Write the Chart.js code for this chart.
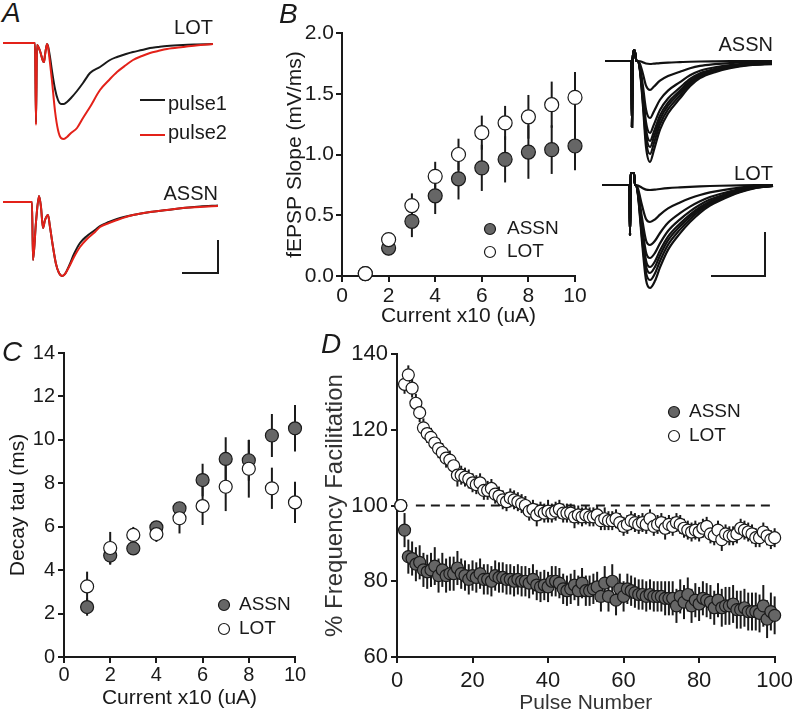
<!DOCTYPE html>
<html>
<head>
<meta charset="utf-8">
<script src="https://cdn.jsdelivr.net/npm/chart.js@4.4.1/dist/chart.umd.min.js"></script>
<style>
body{margin:0;background:#fff;}
#fig{position:relative;width:800px;height:714px;overflow:hidden;font-family:"Liberation Sans",Arial,sans-serif;color:#1a1a1a;}
canvas{position:absolute;}
.lbl{position:absolute;white-space:nowrap;line-height:1;font-size:20px;}
.panel{font-size:28px;font-style:italic;}
.swatch{position:absolute;height:2px;width:25px;}
</style>
</head>
<body>
<div id="fig">
  <canvas id="aLot" width="225" height="125" style="left:0;top:30px"></canvas>
  <canvas id="aAssn" width="225" height="110" style="left:0;top:180px"></canvas>
  <canvas id="bChart" width="330" height="315" style="left:270px;top:15px"></canvas>
  <canvas id="bAssn" width="190" height="150" style="left:595px;top:20px"></canvas>
  <canvas id="bLot" width="190" height="130" style="left:595px;top:165px"></canvas>
  <canvas id="cChart" width="320" height="379" style="left:0;top:335px"></canvas>
  <canvas id="dChart" width="480" height="379" style="left:320px;top:335px"></canvas>

  <div class="lbl panel" style="left:2px;top:-1px">A</div>
  <div class="lbl panel" style="left:279px;top:0px">B</div>
  <div class="lbl panel" style="left:2px;top:338px">C</div>
  <div class="lbl panel" style="left:321px;top:330px">D</div>

  <div class="lbl" style="right:587px;top:17px">LOT</div>
  <div class="lbl" style="right:582px;top:183px">ASSN</div>
  <div class="swatch" style="left:140px;top:99px;background:#1a1a1a"></div>
  <div class="lbl" style="left:168px;top:93px">pulse1</div>
  <div class="swatch" style="left:140px;top:134px;background:#e32119"></div>
  <div class="lbl" style="left:168px;top:122px">pulse2</div>

  <div class="lbl" style="right:27px;top:34px">ASSN</div>
  <div class="lbl" style="right:27px;top:163px">LOT</div>
</div>
<script>
const INK = "#1a1a1a";
const RED = "#e32119";
Chart.defaults.font.family = '"Liberation Sans", Arial, sans-serif';
Chart.defaults.color = INK;
Chart.defaults.animation = false;

// ---- B / C : stimulus series
const current = [1, 2, 3, 4, 5, 6, 7, 8, 9, 10];

// B: fEPSP slope (mV/ms)
const slopeAssn    = [0.02, 0.23, 0.45, 0.66, 0.80, 0.89, 0.96, 1.02, 1.04, 1.07];
const slopeAssnErr = [0, 0.06, 0.13, 0.15, 0.17, 0.19, 0.19, 0.22, 0.20, 0.20];
const slopeLot     = [0.02, 0.30, 0.58, 0.82, 1.00, 1.18, 1.26, 1.31, 1.41, 1.47];
const slopeLotErr  = [0, 0.03, 0.10, 0.12, 0.13, 0.14, 0.14, 0.18, 0.19, 0.21];

// C: decay tau (ms)
const tauAssn    = [2.30, 4.67, 5.00, 5.97, 6.85, 8.15, 9.12, 9.06, 10.20, 10.53];
const tauAssnErr = [0.40, 0.42, 0.15, 0.15, 0.20, 0.75, 1.00, 0.94, 0.99, 1.07];
const tauLot     = [3.25, 5.02, 5.62, 5.66, 6.39, 6.95, 7.84, 8.67, 7.77, 7.12];
const tauLotErr  = [0.68, 0.74, 0.37, 0.36, 0.70, 0.87, 1.12, 1.33, 0.95, 0.95];

// D: % frequency facilitation, pulses 1..100
const pulseNum = Array.from({length: 100}, (v, i) => i + 1);
const ffLot = [
  100, 132, 134.5, 131, 127, 124.5, 120.5, 119, 118, 116.5,
  115, 114, 112.5, 112, 110.5, 108, 108, 107.5, 107, 106,
  105.5, 106, 104, 104, 104.5, 103, 102.5, 101.5, 101, 102,
  101.5, 101, 100.5, 100, 98.5, 99, 97.5, 98.5, 98, 98.5,
  98, 98.5, 99, 98, 98, 98, 97, 97.5, 97, 97.5,
  97, 97, 97.5, 96, 96.5, 96, 96, 96.5, 95.5, 94.5,
  95, 96, 95.5, 95, 95.5, 95, 96.5, 94.5, 95, 95.5,
  94, 95, 94.5, 95.5, 95, 94, 93.5, 93, 93.5, 93,
  94, 94.5, 92.5, 92, 93.5, 91, 92.5, 92, 92, 92.5,
  94, 93.5, 93, 92.5, 91.5, 91.5, 93, 92, 91, 91.5
];
const ffLotErr = [
  0, 2.5, 2.5, 2.5, 2.5, 2.5, 2.5, 2.5, 2.5, 2.5,
  2.5, 2.5, 2.5, 2.5, 2.5, 3, 2.5, 2.5, 2.5, 2.5,
  2.5, 2.5, 2.5, 2.5, 2.5, 2.5, 2.5, 2.5, 2.5, 2.5,
  2.5, 2.5, 2.5, 2.5, 2.5, 2.5, 3, 2.5, 2.5, 3,
  2.5, 2.5, 2.5, 2.5, 2.5, 2.5, 3, 2.5, 2.5, 2.5,
  2.5, 2.5, 2.5, 2.5, 3, 2.5, 2.5, 2.5, 2.5, 2.5,
  2.5, 2.5, 2.5, 2.5, 2.5, 2.5, 2.5, 2.5, 2.5, 2.5,
  3, 2.5, 2.5, 2.5, 2.5, 2.5, 2.5, 2.5, 2.5, 2.5,
  2.5, 2.5, 2.5, 2.5, 2.5, 3, 2.5, 2.5, 2.5, 2.5,
  2.5, 2.5, 2.5, 2.5, 2.5, 2.5, 2.5, 2.5, 2.5, 2.5
];
const ffAssn = [
  100, 93.5, 86.5, 86, 84.5, 85, 83, 82.5, 83, 84,
  81.5, 83, 81.5, 82, 82, 83.5, 82, 81.5, 80.5, 81.5,
  81, 82, 80.5, 80.5, 80, 81.5, 81, 81, 80.5, 80.5,
  80, 80.5, 80, 80, 79.5, 80.5, 79, 78.5, 79, 78.5,
  80, 80, 79.5, 78, 77.5, 78, 79, 77.5, 79.5, 77.5,
  77.5, 78, 78.5, 76, 79.5, 76, 80, 75, 78, 76,
  78, 77.5, 77, 76.5, 76.5, 76, 76.5, 76, 76, 76,
  75.5, 75.5, 75.5, 73.5, 76, 74.5, 76.5, 73.5, 75, 74,
  75.5, 75, 74.5, 73, 75, 73, 73.5, 73.5, 74, 72.5,
  72.5, 73, 72, 72, 72, 71.5, 73.5, 70, 72, 71
];
const ffAssnErr = [
  0, 4.5, 4.5, 4.5, 4.5, 4.5, 4.5, 4.5, 4.5, 5,
  4.5, 4.5, 4.5, 4.5, 4.5, 4.5, 4, 4, 4, 4,
  4, 4, 4, 4, 4, 4, 4, 4, 4, 4,
  4, 4, 4, 4, 4, 4, 4, 4, 4, 4,
  4, 4, 4, 4, 4, 4, 4, 4, 4, 4,
  4, 4, 4, 4, 4.5, 4, 4.5, 4, 4, 4,
  4, 4, 4, 4, 4, 4, 4, 4, 4, 4,
  4.5, 4.5, 4.5, 4.5, 4.5, 4.5, 4.5, 4.5, 4.5, 4.5,
  4.5, 4.5, 4.5, 4.5, 4.5, 5, 5, 5, 5, 5,
  5, 5, 5, 5, 5, 5, 5.5, 5, 5, 5
];
const refLevel = 100;
const refPulses = [5, 99];

// ---- A: paired-pulse traces (time samples, signal)
const aLotT  = [-33, -1, 0, 1, 4, 7, 8, 9, 11, 12, 14, 16, 19, 22, 25, 28, 31, 35, 41, 47, 54, 64, 74, 81, 90, 97, 106, 114, 122, 131, 147, 160, 177];
const aLotP1 = [0, 0, -80, -2, -8, -18, -19, -12, -1, -3, -14, -28, -46, -57, -61, -61, -59, -55, -48, -40, -30, -24, -17, -14, -11, -9, -7, -5, -4, -3, -2, -1.5, -1];
const aLotP2 = [0, 0, -82, -2, -8, -18, -19, -12, -1, -4, -20, -38, -68, -87, -95, -96, -94, -90, -85, -75, -64, -47, -36, -29, -22, -17, -13, -10, -8, -6, -4, -2.5, -1];

const aAssnT  = [-30, -1, 0, 3, 6, 8, 10, 12, 15, 17, 20, 23, 26, 29, 32, 36, 41, 47, 54, 62, 67, 76, 84, 100, 117, 134, 150, 167, 185];
const aAssnP1 = [0, 0, -58, -20, 6, -5, -26, -18, -13, -25, -45, -62, -71, -74, -72, -64, -52, -41, -34, -28, -24, -20, -17, -13, -10, -8, -6, -4.5, -3.5];
const aAssnP2 = [0, 0, -58, -20, 6, -5, -26, -18, -13, -25, -45, -62, -71, -74, -72, -65, -55, -45, -37, -30, -25, -21, -18, -13, -10, -8, -6, -5, -4];
const aBarT = [149, 185, 185];
const aBarV = [-71, -71, -38];

// ---- B inset: input/output families (stimulus artifact + normalised response x peak)
const bAssnArtT = [-27, -0.5, 0, 0.6, 2.5, 4.5];
const bAssnArtV = [0, 0, -66, 0, 11, 0];
const bAssnShapeT = [6, 8, 11, 14, 18, 22, 28, 36, 48, 58, 68, 83, 98, 118, 140];
const bAssnShape  = [0, -0.1, -0.45, -0.85, -1, -0.88, -0.68, -0.52, -0.37, -0.25, -0.17, -0.11, -0.07, -0.04, -0.03];
const bAssnPeaks  = [3, 29, 57, 72, 80, 86, 93, 101];

const bLotArtT = [-28, -0.5, 0, 0.6, 1.2, 4, 5];
const bLotArtV = [0, 0, -50, 0, 12, 12, 0];
const bLotShapeT = [6, 8, 12, 16, 20, 25, 30, 38, 50, 60, 70, 80, 90, 110, 125, 143];
const bLotShape  = [0, -0.1, -0.55, -0.92, -1, -0.93, -0.8, -0.63, -0.47, -0.36, -0.27, -0.2, -0.15, -0.07, -0.03, -0.01];
const bLotPeaks  = [5, 37, 60, 73, 82, 88, 95, 103];
const bBarT = [81, 135, 135];
const bBarV = [-91, -91, -47];

// helpers
function pts(xs, ys){ return xs.map((x, i) => ({x, y: ys[i]})); }

function traceSet(xs, ys, color, w){
  return {data: pts(xs, ys), showLine: true, pointRadius: 0, borderColor: color,
          borderWidth: w || 2, cubicInterpolationMode: "monotone", clip: false};
}

function familySet(artT, artV, shT, sh, peak){
  const t = artT.concat(shT);
  const v = artV.concat(sh.map(s => s * peak));
  return traceSet(t, v, "#111", 2.2);
}

function traceChart(id, datasets, xr, yr){
  return new Chart(document.getElementById(id), {
    type: "scatter",
    data: {datasets},
    options: {
      responsive: false, animation: false, layout: {padding: 0},
      plugins: {legend: {display: false}, tooltip: {enabled: false}},
      scales: {
        x: {type: "linear", display: false, min: xr[0], max: xr[1]},
        y: {display: false, min: yr[0], max: yr[1]}
      }
    }
  });
}

// error bars drawn under the markers
const errorBars = {
  id: "errorBars",
  beforeDatasetsDraw(chart){
    const {ctx, scales: {x, y}} = chart;
    ctx.save();
    ctx.strokeStyle = INK;
    ctx.lineWidth = 2;
    chart.data.datasets.forEach(ds => {
      if (!ds.errors) return;
      ds.data.forEach((p, i) => {
        const e = ds.errors[i];
        if (!e) return;
        const px = x.getPixelForValue(p.x);
        ctx.beginPath();
        ctx.moveTo(px, y.getPixelForValue(p.y - e));
        ctx.lineTo(px, y.getPixelForValue(p.y + e));
        ctx.stroke();
      });
    });
    ctx.restore();
  }
};

// legend with dot markers inside the plot
const dotLegend = {
  id: "dotLegend",
  afterDraw(chart, args, o){
    const ctx = chart.ctx;
    const items = chart.data.datasets.filter(d => d.label).sort((a, b) => b.order - a.order);
    ctx.save();
    items.forEach((d, i) => {
      const cy = o.y + i * o.dy;
      ctx.beginPath();
      ctx.arc(o.x, cy, o.r, 0, Math.PI * 2);
      ctx.fillStyle = d.backgroundColor;
      ctx.fill();
      ctx.lineWidth = 1.2;
      ctx.strokeStyle = INK;
      ctx.stroke();
      ctx.fillStyle = INK;
      ctx.font = o.font;
      ctx.textBaseline = "middle";
      ctx.fillText(d.label, o.tx, cy);
    });
    ctx.restore();
  }
};

function axis(o){
  return {
    type: "linear", min: o.min, max: o.max,
    afterFit: o.fit,
    border: {display: true, color: INK, width: 2},
    grid: {display: true, drawOnChartArea: false, drawTicks: true, tickLength: 6, color: INK, lineWidth: 2},
    ticks: {stepSize: o.step, padding: o.pad, color: INK, autoSkip: false, maxRotation: 0,
            font: {size: o.fs, lineHeight: 1}, callback: o.cb || (v => v)},
    title: {display: true, text: o.title, color: o.tc || INK,
            font: {size: o.tfs, lineHeight: 1}, padding: o.tpad}
  };
}

function markerSet(label, xs, ys, errs, fill, r, order){
  return {label, data: pts(xs, ys), errors: errs, backgroundColor: fill, borderColor: INK,
          borderWidth: 1.2, pointRadius: r, pointHoverRadius: r, order, clip: false};
}

function plotChart(id, datasets, scales, padding, legend){
  return new Chart(document.getElementById(id), {
    type: "scatter",
    data: {datasets},
    plugins: [errorBars, dotLegend],
    options: {
      responsive: false, animation: false,
      layout: {padding},
      plugins: {legend: {display: false}, tooltip: {enabled: false}, dotLegend: legend},
      scales
    }
  });
}

// ---- Panel A
traceChart("aLot", [traceSet(aLotT, aLotP2, RED), traceSet(aLotT, aLotP1, INK)], [-36, 189], [-112, 13]);
traceChart("aAssn", [traceSet(aAssnT, aAssnP2, RED), traceSet(aAssnT, aAssnP1, INK),
                     traceSet(aBarT, aBarV, INK, 2)], [-33, 192], [-88, 22]);

// ---- Panel B
plotChart("bChart", [
  markerSet("LOT", current, slopeLot, slopeLotErr, "#fff", 7, 1),
  markerSet("ASSN", current, slopeAssn, slopeAssnErr, "#666", 7, 2)
], {
  x: axis({min: 0, max: 10, step: 2, pad: 3.5, fs: 21, title: "Current x10 (uA)", tfs: 21, tpad: 3.5,
           fit: s => { s.height = 54; }}),
  y: axis({min: 0, max: 2, step: 0.5, pad: 2, fs: 21, title: "fEPSP Slope (mV/ms)", tfs: 21, tpad: 14.5,
           cb: v => v.toFixed(1), fit: s => { s.width = 72; }})
}, {top: 18, right: 25, left: 0, bottom: 0},
{x: 220, y: 214, dy: 23, tx: 237, r: 5.5, font: '19px "Liberation Sans", Arial'});

traceChart("bAssn", bAssnPeaks.map(p => familySet(bAssnArtT, bAssnArtV, bAssnShapeT, bAssnShape, p)),
           [-37, 153], [-109, 41]);
traceChart("bLot", bLotPeaks.map(p => familySet(bLotArtT, bLotArtV, bLotShapeT, bLotShape, p))
           .concat([traceSet(bBarT, bBarV, INK, 2)]), [-35, 155], [-110, 20]);

// ---- Panel C
plotChart("cChart", [
  markerSet("LOT", current, tauLot, tauLotErr, "#fff", 6.5, 1),
  markerSet("ASSN", current, tauAssn, tauAssnErr, "#666", 6.5, 2)
], {
  x: axis({min: 0, max: 10, step: 2, pad: 2, fs: 20, title: "Current x10 (uA)", tfs: 21, tpad: 5.5,
           fit: s => { s.height = 57; }}),
  y: axis({min: 0, max: 14, step: 2, pad: 3, fs: 20, title: "Decay tau (ms)", tfs: 21, tpad: 7.5,
           fit: s => { s.width = 64; }})
}, {top: 18, right: 25, left: 0, bottom: 0},
{x: 224, y: 270, dy: 24, tx: 239, r: 5.5, font: '19px "Liberation Sans", Arial'});

// ---- Panel D
const refSet = {data: refPulses.map(p => ({x: p, y: refLevel})), showLine: true, pointRadius: 0,
                borderColor: INK, borderWidth: 2, borderDash: [9, 6], order: 3};
plotChart("dChart", [
  markerSet("LOT", pulseNum, ffLot, ffLotErr, "#fff", 6, 1),
  markerSet("ASSN", pulseNum, ffAssn, ffAssnErr, "#666", 6, 2),
  refSet
], {
  x: axis({min: 0, max: 100, step: 20, pad: 7, fs: 22, title: "Pulse Number", tfs: 21, tpad: 0, tc: "#333",
           fit: s => { s.height = 57; }}),
  y: axis({min: 60, max: 140, step: 20, pad: 3, fs: 22, title: "% Frequency Facilitation", tfs: 24, tpad: 3, tc: "#333",
           fit: s => { s.width = 77; }})
}, {top: 19, right: 19, left: 0, bottom: 0},
{x: 354, y: 77, dy: 24, tx: 369, r: 5.5, font: '19px "Liberation Sans", Arial'});
</script>
</body>
</html>
